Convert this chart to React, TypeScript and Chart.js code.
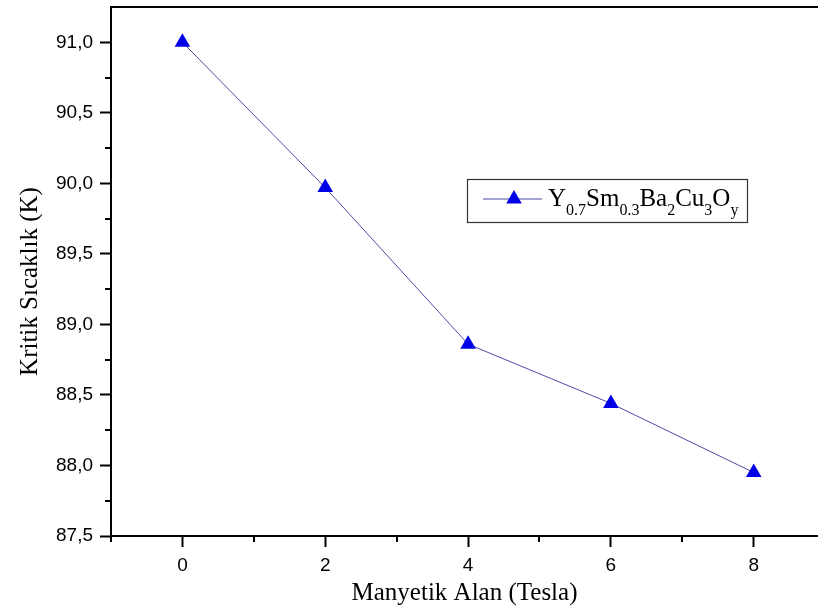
import React, { useEffect, useRef } from "react";
import { Chart, registerables } from "chart.js";

Chart.register(...registerables);

const fieldTesla = [0, 2, 4, 6, 8];
const criticalTemp = [91.0, 89.97, 88.86, 88.44, 87.95];
const xMajorTicks = [0, 2, 4, 6, 8];
const xMinorTicks = [-1, 1, 3, 5, 7];
const yMajorTicks = [87.5, 88.0, 88.5, 89.0, 89.5, 90.0, 90.5, 91.0];
const yMinorTicks = [87.75, 88.25, 88.75, 89.25, 89.75, 90.25, 90.75];
const seriesLabel = "Y0.7Sm0.3Ba2Cu3Oy";
const legendParts = [
  { t: "Y", sub: false },
  { t: "0.7", sub: true },
  { t: "Sm", sub: false },
  { t: "0.3", sub: true },
  { t: "Ba", sub: false },
  { t: "2", sub: true },
  { t: "Cu", sub: false },
  { t: "3", sub: true },
  { t: "O", sub: false },
  { t: "y", sub: true },
];
const xTitle = "Manyetik Alan (Tesla)";
const yTitle = "Kritik Sıcaklık (K)";

const LINE_COLOR = "#4b4ba6";
const MARKER_COLOR = "#0000e6";

const zeroPad = (s: any) => {
  s.paddingTop = 0;
  s.paddingBottom = 0;
  s.paddingLeft = 0;
  s.paddingRight = 0;
};

const extrasPlugin = {
  id: "extras",
  afterDraw(chart: any) {
    const { ctx, chartArea: a, scales } = chart;
    const xs = scales.x;
    const ys = scales.y;
    ctx.save();
    ctx.strokeStyle = "#000";
    ctx.lineWidth = 2;
    ctx.beginPath();
    ctx.moveTo(a.left - 1, a.top);
    ctx.lineTo(a.right, a.top);
    xMinorTicks.forEach((v) => {
      const px = Math.round(xs.getPixelForValue(v));
      ctx.moveTo(px, a.bottom);
      ctx.lineTo(px, a.bottom + 6);
    });
    yMinorTicks.forEach((v) => {
      const py = Math.round(ys.getPixelForValue(v));
      ctx.moveTo(a.left, py);
      ctx.lineTo(a.left - 6, py);
    });
    ctx.stroke();

    // y axis title
    ctx.save();
    ctx.translate(30, (a.top + a.bottom) / 2 + 10);
    ctx.rotate(-Math.PI / 2);
    ctx.fillStyle = "#000";
    ctx.font = "25px 'Liberation Serif'";
    ctx.textAlign = "center";
    ctx.textBaseline = "middle";
    ctx.fillText(yTitle, 0, 0);
    ctx.restore();

    // legend
    const bx = a.left + 356;
    const by = a.top + 172;
    const bw = 280;
    const bh = 43;
    ctx.lineWidth = 1.2;
    ctx.strokeStyle = "#333";
    ctx.strokeRect(bx + 0.5, by + 0.5, bw, bh);
    const cy = by + 20;
    ctx.strokeStyle = LINE_COLOR;
    ctx.lineWidth = 1;
    ctx.beginPath();
    ctx.moveTo(bx + 16, cy);
    ctx.lineTo(bx + 75, cy);
    ctx.stroke();
    const r = 9;
    const tx = bx + 47;
    ctx.fillStyle = MARKER_COLOR;
    ctx.beginPath();
    ctx.moveTo(tx, cy - r);
    ctx.lineTo(tx + r * Math.sin(Math.PI / 3), cy + r / 2);
    ctx.lineTo(tx - r * Math.sin(Math.PI / 3), cy + r / 2);
    ctx.closePath();
    ctx.fill();

    let x = bx + 81;
    const baseline = by + 27;
    ctx.fillStyle = "#000";
    ctx.textBaseline = "alphabetic";
    ctx.textAlign = "left";
    legendParts.forEach((p) => {
      ctx.font = p.sub ? "16px 'Liberation Serif'" : "25px 'Liberation Serif'";
      ctx.fillText(p.t, x, p.sub ? baseline + 9 : baseline);
      x += ctx.measureText(p.t).width;
    });
    ctx.restore();
  },
};

export default function App() {
  const ref = useRef<HTMLCanvasElement | null>(null);
  useEffect(() => {
    if (!ref.current) return;
    const chart = new Chart(ref.current, {
      type: "scatter",
      data: {
        datasets: [
          {
            label: seriesLabel,
            data: fieldTesla.map((x, i) => ({ x, y: criticalTemp[i] })),
            showLine: true,
            borderColor: LINE_COLOR,
            borderWidth: 1,
            pointStyle: "triangle",
            pointRadius: 9,
            pointBorderWidth: 0,
            pointBackgroundColor: MARKER_COLOR,
            pointBorderColor: MARKER_COLOR,
          },
        ],
      },
      options: {
        responsive: false,
        animation: false,
        layout: { autoPadding: false, padding: { top: 7, left: 0, right: 0, bottom: 0 } },
        plugins: { legend: { display: false }, tooltip: { enabled: false } },
        scales: {
          x: {
            type: "linear",
            min: -1,
            max: 8.9,
            afterFit: (s: any) => {
              s.height = 72;
              zeroPad(s);
            },
            afterBuildTicks: (s: any) => {
              s.ticks = xMajorTicks.map((v) => ({ value: v }));
            },
            border: { display: true, color: "#000", width: 2 },
            grid: {
              display: true,
              drawOnChartArea: false,
              drawTicks: true,
              tickLength: 11,
              tickWidth: 2,
              tickColor: "#000",
            },
            ticks: {
              color: "#000",
              padding: 7,
              font: { family: "'Liberation Sans'", size: 19 },
              maxRotation: 0,
              callback: (v: any) => String(v),
            },
            title: {
              display: true,
              text: xTitle,
              color: "#000",
              font: { family: "'Liberation Serif'", size: 25 },
              padding: { top: 4, bottom: 0 },
            },
          },
          y: {
            type: "linear",
            min: 87.5,
            max: 91.25,
            afterFit: (s: any) => {
              s.width = 111;
              zeroPad(s);
            },
            afterBuildTicks: (s: any) => {
              s.ticks = yMajorTicks.map((v) => ({ value: v }));
            },
            border: { display: true, color: "#000", width: 2 },
            grid: {
              display: true,
              drawOnChartArea: false,
              drawTicks: true,
              tickLength: 11,
              tickWidth: 2,
              tickColor: "#000",
            },
            ticks: {
              color: "#000",
              padding: 7,
              font: { family: "'Liberation Sans'", size: 19 },
              callback: (v: any) => Number(v).toFixed(1).replace(".", ","),
            },
            title: { display: false, text: yTitle },
          },
        },
      },
      plugins: [extrasPlugin],
    });
    return () => chart.destroy();
  }, []);
  return (
    <div style={{ position: "absolute", left: 0, top: 0, width: 818, height: 608, background: "#fff" }}>
      <canvas ref={ref} width={818} height={608} style={{ display: "block" }} />
    </div>
  );
}
